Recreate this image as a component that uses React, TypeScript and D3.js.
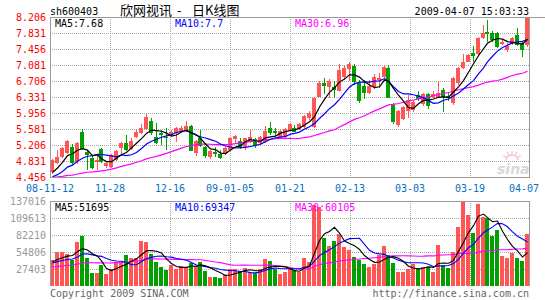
import React from 'react';
import * as d3 from 'd3';

const dateTicks = ['08-11-12', '11-28', '12-16', '09-01-05', '01-21', '02-13', '03-03', '03-19', '04-07'];
const priceTicks = ['8.206', '7.831', '7.456', '7.081', '6.706', '6.331', '5.956', '5.581', '5.206', '4.831', '4.456'];
const volTicks = ['137016', '109613', '82210', '54806', '27403'];

const open = [4.58, 4.79, 4.93, 5.01, 5.17, 4.81, 5.52, 5.05, 4.90, 4.81, 5.11, 4.71, 4.70, 4.85, 5.13, 5.25, 5.11, 5.40, 5.48, 5.57,
  5.78, 5.40, 5.49, 5.40, 5.42, 5.48, 5.54, 5.54, 5.66, 5.01, 5.36, 5.15, 4.93, 5.05, 4.99, 4.99, 5.09, 5.34, 5.30, 5.15,
  5.28, 5.35, 5.26, 5.28, 5.61, 5.54, 5.39, 5.40, 5.56, 5.60, 5.57, 5.62, 5.83, 5.63, 6.34, 6.67, 6.57, 6.57, 6.48, 6.81,
  6.98, 7.06, 6.65, 6.59, 6.43, 6.57, 6.74, 6.79, 7.00, 6.14, 5.67, 5.81, 6.00, 6.02, 6.38, 6.16, 6.41, 6.33, 6.34, 6.50,
  6.36, 6.18, 6.65, 7.02, 7.16, 7.36, 7.33, 7.71, 7.85, 7.82, 7.82, 7.57, 7.43, 7.59, 7.78, 7.59, 7.55];
const high = [4.87, 5.09, 5.16, 5.33, 5.22, 5.28, 5.58, 5.09, 4.95, 4.97, 5.13, 4.80, 5.00, 5.10, 5.28, 5.45, 5.36, 5.56, 5.70, 5.93,
  5.85, 5.73, 5.55, 5.60, 5.56, 5.63, 5.65, 5.76, 5.68, 5.33, 5.56, 5.18, 5.10, 5.15, 5.08, 5.16, 5.40, 5.44, 5.37, 5.38,
  5.56, 5.37, 5.41, 5.65, 5.75, 5.61, 5.56, 5.60, 5.72, 5.68, 5.73, 5.91, 6.00, 6.33, 6.70, 6.77, 6.75, 6.70, 7.10, 7.06,
  7.15, 7.10, 6.72, 6.73, 6.73, 6.87, 6.90, 7.08, 7.08, 6.19, 6.03, 6.12, 6.38, 6.26, 6.47, 6.42, 6.43, 6.48, 6.71, 6.55,
  6.45, 6.80, 7.04, 7.35, 7.35, 7.53, 7.74, 8.02, 8.14, 7.87, 7.85, 7.66, 7.60, 7.74, 7.95, 7.62, 8.206];
const low = [4.53, 4.77, 4.91, 4.99, 4.74, 4.77, 5.09, 4.62, 4.64, 4.62, 4.78, 4.67, 4.67, 4.83, 4.97, 5.06, 5.09, 5.38, 5.46, 5.55,
  5.44, 5.24, 5.20, 5.09, 5.39, 5.28, 5.52, 5.52, 5.06, 4.94, 5.17, 4.91, 4.87, 4.93, 4.87, 4.97, 5.06, 5.24, 5.11, 5.10,
  5.26, 5.14, 5.24, 5.26, 5.45, 5.42, 5.36, 5.38, 5.54, 5.50, 5.55, 5.60, 5.80, 5.61, 6.32, 6.41, 6.30, 6.30, 6.46, 6.74,
  6.70, 6.62, 6.20, 6.29, 6.41, 6.52, 6.55, 6.77, 6.30, 5.70, 5.63, 5.79, 5.84, 5.99, 6.23, 6.13, 6.04, 6.30, 6.32, 5.99,
  6.24, 6.15, 6.62, 6.98, 7.14, 7.14, 7.30, 7.69, 7.63, 7.62, 7.48, 7.55, 7.39, 7.56, 7.52, 7.27, 7.50];
const close = [4.85, 4.93, 5.14, 5.31, 4.78, 5.26, 5.11, 4.97, 4.67, 4.85, 4.81, 4.78, 4.97, 5.07, 5.25, 5.09, 5.31, 5.52, 5.60, 5.87,
  5.48, 5.25, 5.44, 5.38, 5.52, 5.61, 5.60, 5.65, 5.07, 5.30, 5.18, 4.95, 5.07, 4.99, 4.89, 5.13, 5.36, 5.42, 5.15, 5.36,
  5.39, 5.18, 5.39, 5.54, 5.48, 5.48, 5.53, 5.57, 5.69, 5.52, 5.70, 5.89, 5.95, 6.30, 6.65, 6.59, 6.71, 6.49, 6.96, 7.00,
  7.10, 6.69, 6.24, 6.43, 6.59, 6.81, 6.78, 7.03, 6.30, 5.75, 6.00, 6.10, 6.26, 6.22, 6.28, 6.39, 6.13, 6.40, 6.42, 6.34,
  6.31, 6.77, 7.00, 7.16, 7.32, 7.30, 7.71, 7.82, 7.80, 7.67, 7.51, 7.63, 7.53, 7.71, 7.55, 7.43, 8.206];
const volume = [41900, 55300, 55300, 51600, 41900, 71400, 81100, 44600, 21400, 21400, 33800, 19900, 27400, 39200, 39200, 50000, 44600, 45700, 72500, 71400,
  51100, 39200, 31200, 25800, 33800, 27400, 32200, 31200, 36500, 31200, 39200, 24200, 15000, 15000, 13400, 17700, 27400, 27400, 24200, 29500,
  22000, 20400, 27400, 43500, 40300, 27400, 19900, 23100, 27400, 25800, 23100, 45700, 39200, 130600, 127800, 77900, 64500, 72500, 83800, 63400,
  58000, 47300, 41900, 34900, 31200, 35500, 50000, 64500, 50000, 36500, 23100, 23100, 27000, 34900, 29500, 31200, 31200, 23100, 66100, 33800,
  29500, 54200, 95600, 137000, 114400, 84900, 131600, 111700, 109100, 81100, 90300, 48400, 45700, 53700, 45700, 40300, 83800];

// estimated sessions before the first visible day (needed for the moving averages)
const priorClose = [4.80, 4.72, 4.65, 4.58, 4.52, 4.45, 4.38, 4.42, 4.48, 4.40, 4.35, 4.25, 4.20, 4.15, 4.28, 4.35, 4.42, 4.50, 4.55, 4.54,
  4.45, 4.38, 4.30, 4.32, 4.37, 4.40, 4.48, 4.52, 4.56];
const priorVolume = [30000, 26000, 24000, 28000, 31000, 25000, 22000, 27000, 29000, 33000, 26000, 24000, 28000, 30000, 27000, 25000, 29000, 26000, 28000, 30000,
  32000, 38000, 36000, 34000, 36500, 35000, 42000, 38000, 36600];

const RED = '#ff5555';
const GREEN = '#00a000';
const MONO = '"DejaVu Sans Mono", monospace';

function movingAvg(prior: number[], vals: number[], n: number): number[] {
  const all = [...prior, ...vals];
  return vals.map((_, i) => {
    const end = prior.length + i;
    return d3.mean(all.slice(end - n + 1, end + 1)) as number;
  });
}

export default function App() {
  const N = close.length;
  const L = 50, R = 530;
  const pTop = 17, pBot = 177;
  const vTop = 201, vBot = 286;

  const xb = d3.scaleBand<number>().domain(d3.range(N)).range([L, R]).padding(0);
  const bx = (i: number) => Math.round(xb(i) as number);
  const cx = (i: number) => bx(i) + 2;
  const gx = d3.scaleLinear().domain([0, 8]).range([L, R]);
  const py = d3.scaleLinear().domain([4.456, 8.206]).range([pBot, pTop]);
  const vy = d3.scaleLinear().domain([0, 137016]).range([vBot, vTop]);

  const pm5 = movingAvg(priorClose, close, 5);
  const pm10 = movingAvg(priorClose, close, 10);
  const pm30 = movingAvg(priorClose, close, 30);
  const vm5 = movingAvg(priorVolume, volume, 5);
  const vm10 = movingAvg(priorVolume, volume, 10);
  const vm30 = movingAvg(priorVolume, volume, 30);

  const pLine = d3.line<number>().x((_, i) => cx(i) + 0.5).y(d => py(d));
  const vLine = d3.line<number>().x((_, i) => cx(i) + 0.5).y(d => vy(d));

  const gridColor = '#aaaaaa';
  const border = '#999999';

  return (
    <svg width={545} height={300} style={{ position: 'absolute', left: 0, top: 0, background: '#fff' }}
      xmlns="http://www.w3.org/2000/svg">
      <defs>
        <clipPath id="pclip"><rect x={L} y={pTop} width={R - L} height={pBot - pTop} /></clipPath>
        <clipPath id="vclip"><rect x={L} y={vTop} width={R - L} height={vBot - vTop} /></clipPath>
      </defs>
      <rect x={0} y={0} width={545} height={300} fill="#fff" />

      {/* header */}
      <text x={50} y={14.5} fontFamily={MONO} fontSize={10} fill="#000">sh600403</text>
      <text x={120} y={15} fontFamily='"Noto Sans CJK SC"' fontSize={13} fill="#000">欣网视讯</text>
      <text x={177} y={15} fontFamily='"Noto Sans CJK SC"' fontSize={13} fill="#000">-</text>
      <text x={192} y={15} fontFamily='"Noto Sans CJK SC"' fontSize={13} fill="#000">日K线图</text>
      <text x={529} y={14.5} fontFamily={MONO} fontSize={10} fill="#000" textAnchor="end">2009-04-07 15:03:33</text>

      {/* price grid */}
      {priceTicks.map((t, k) => {
        const y = Math.round(py(8.206 - 0.375 * k)) + 0.5;
        return (
          <g key={'pt' + k}>
            {k > 0 && k < priceTicks.length - 1 && (
              <line x1={L} x2={R} y1={y} y2={y} stroke={gridColor} strokeDasharray="1,1" />
            )}
            <text x={46} y={y} dy="0.35em" fontFamily={MONO} fontSize={10} fill="#ff0000" textAnchor="end">{t}</text>
          </g>
        );
      })}
      {d3.range(1, 8).map(k => (
        <line key={'pv' + k} x1={Math.round(gx(k)) + 0.5} x2={Math.round(gx(k)) + 0.5} y1={pTop} y2={pBot}
          stroke={gridColor} strokeDasharray="1,1" />
      ))}

      {/* watermark */}
      <g opacity={0.9}>
        <path d="M506,160 a6,5 0 0 1 12,0" fill="none" stroke="#f2b8b8" strokeWidth={1.5} />
        {[-60, -30, 0, 30, 60].map(a => {
          const r = (a - 90) * Math.PI / 180;
          return <line key={'w' + a} x1={512 + 7 * Math.cos(r)} y1={160 + 6 * Math.sin(r)} x2={512 + 10 * Math.cos(r)} y2={160 + 9 * Math.sin(r)} stroke="#f2b8b8" strokeWidth={1.2} />;
        })}
        <text x={497} y={174} fontFamily='"DejaVu Sans", sans-serif' fontWeight="bold" fontStyle="italic" fontSize={14} fill="#d4d4d4">sina</text>
      </g>

      {/* candles */}
      <g>
        {close.map((c, i) => {
          const o = open[i];
          const up = c >= o;
          const col = up ? RED : GREEN;
          const top = Math.round(py(Math.max(o, c)));
          const bot = Math.round(py(Math.min(o, c)));
          const hTop = Math.round(py(high[i]));
          const lBot = Math.round(py(low[i]));
          return (
            <g key={'c' + i}>
              <rect x={bx(i) + 2} y={hTop} width={1} height={Math.max(1, lBot - hTop)} fill={col} />
              <rect x={bx(i)} y={top} width={4} height={Math.max(1, bot - top)} fill={col} />
            </g>
          );
        })}
      </g>

      {/* price MAs */}
      <g clipPath="url(#pclip)" fill="none" strokeWidth={1.2}>
        <path d={pLine(pm30) || ''} stroke="#ff00ff" />
        <path d={pLine(pm10) || ''} stroke="#0000ff" />
        <path d={pLine(pm5) || ''} stroke="#000000" />
      </g>

      {/* price frame */}
      <line x1={L} x2={545} y1={pTop + 0.5} y2={pTop + 0.5} stroke={border} />
      <line x1={L + 0.5} x2={L + 0.5} y1={pTop} y2={pBot} stroke={border} />
      <line x1={R - 0.5} x2={R - 0.5} y1={pTop} y2={pBot} stroke={border} />
      <line x1={L} x2={R} y1={pBot + 0.5} y2={pBot + 0.5} stroke={border} />

      {/* price legends */}
      <text x={55} y={27} fontFamily={MONO} fontSize={10} fill="#000">MA5:7.68</text>
      <text x={175} y={27} fontFamily={MONO} fontSize={10} fill="#0000ff">MA10:7.7</text>
      <text x={295} y={27} fontFamily={MONO} fontSize={10} fill="#ff00ff">MA30:6.96</text>

      {/* date labels */}
      {dateTicks.map((t, k) => (
        <text key={'d' + k} x={k === dateTicks.length - 1 ? 539 : gx(k)} y={192} fontFamily={MONO} fontSize={10}
          fill="#0a70c0" textAnchor={k === dateTicks.length - 1 ? 'end' : 'middle'}>{t}</text>
      ))}

      {/* volume grid */}
      {volTicks.map((t, k) => {
        const y = Math.round(vy(+t)) + 0.5;
        return (
          <g key={'vt' + k}>
            {k > 0 && <line x1={L} x2={R} y1={y} y2={y} stroke={gridColor} strokeDasharray="1,1" />}
            <text x={46} y={y} dy="0.35em" fontFamily={MONO} fontSize={10} fill="#999" textAnchor="end">{t}</text>
          </g>
        );
      })}
      {d3.range(1, 8).map(k => (
        <line key={'vv' + k} x1={Math.round(gx(k)) + 0.5} x2={Math.round(gx(k)) + 0.5} y1={vTop} y2={vBot}
          stroke={gridColor} strokeDasharray="1,1" />
      ))}

      {/* volume bars */}
      <g>
        {volume.map((v, i) => {
          const up = close[i] >= open[i];
          const t = Math.round(vy(v));
          return <rect key={'v' + i} x={bx(i)} y={t} width={4} height={vBot - t} fill={up ? RED : GREEN} />;
        })}
      </g>

      {/* volume MAs */}
      <g clipPath="url(#vclip)" fill="none" strokeWidth={1.1}>
        <path d={vLine(vm30) || ''} stroke="#ff00ff" />
        <path d={vLine(vm10) || ''} stroke="#0000ff" />
        <path d={vLine(vm5) || ''} stroke="#000000" />
      </g>

      {/* volume frame */}
      <line x1={L} x2={R} y1={vTop + 0.5} y2={vTop + 0.5} stroke={border} />
      <line x1={L + 0.5} x2={L + 0.5} y1={vTop} y2={vBot} stroke={border} />
      <line x1={R - 0.5} x2={R - 0.5} y1={vTop} y2={vBot} stroke={border} />

      <text x={55} y={210.5} fontFamily={MONO} fontSize={10} fill="#000">MA5:51695</text>
      <text x={175} y={210.5} fontFamily={MONO} fontSize={10} fill="#0000ff">MA10:69347</text>
      <text x={295} y={210.5} fontFamily={MONO} fontSize={10} fill="#ff00ff">MA30:60105</text>

      {/* footer */}
      <text x={50} y={296.5} fontFamily={MONO} fontSize={10} fill="#666">Copyright 2009 SINA.COM</text>
      <text x={529} y={296.5} fontFamily={MONO} fontSize={10} fill="#666" textAnchor="end">http://finance.sina.com.cn</text>
    </svg>
  );
}
